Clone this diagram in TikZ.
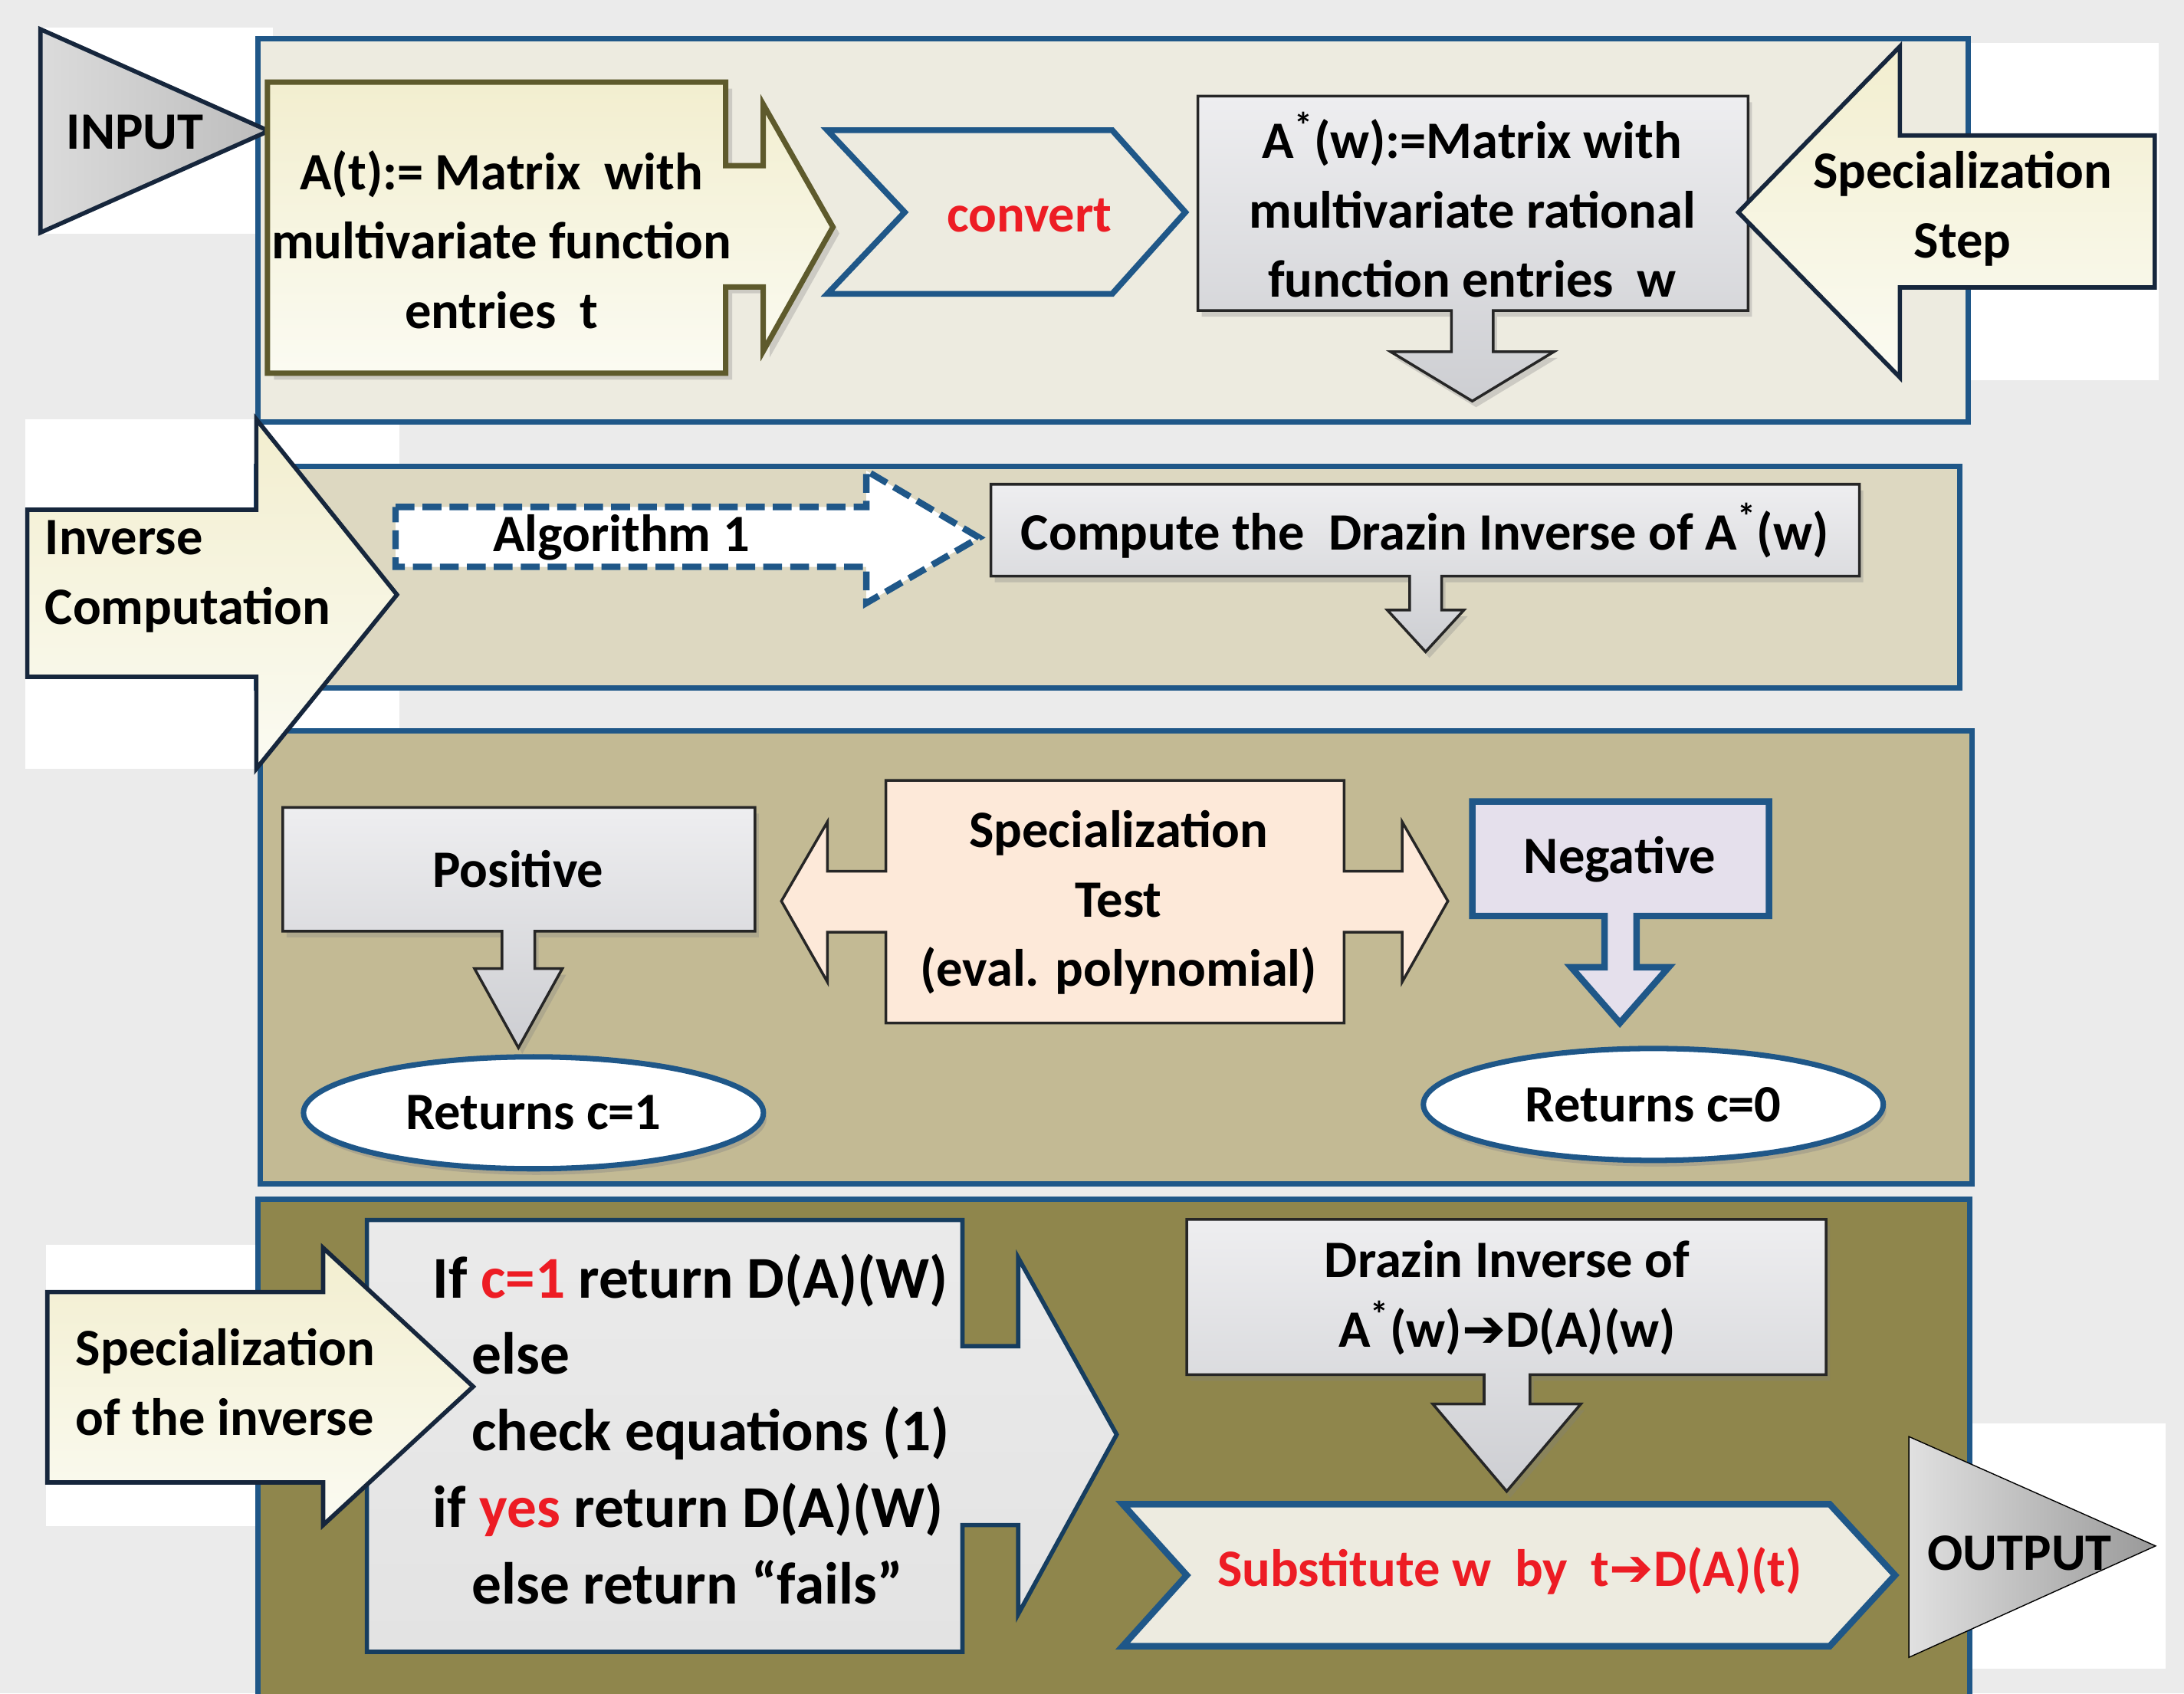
\documentclass[tikz,border=0pt]{standalone}
\usepackage{fontspec}
\setmainfont{Carlito}
\newfontfamily\arrowfont{DejaVu Sans}
\usetikzlibrary{shapes.geometric,shadows}

\definecolor{pageback}{HTML}{EBEBEB}
\definecolor{panelblue}{HTML}{1F5788}
\definecolor{bandone}{HTML}{EDEBE0}
\definecolor{bandtwo}{HTML}{DDD8C1}
\definecolor{bandthree}{HTML}{C3BA94}
\definecolor{bandfour}{HTML}{8F864C}
\definecolor{creamtop}{HTML}{F2EECF}
\definecolor{creambot}{HTML}{FBFBF2}
\definecolor{greytop}{HTML}{EEEEF0}
\definecolor{greybot}{HTML}{CDCED2}
\definecolor{peach}{HTML}{FDE9D9}
\definecolor{lavender}{HTML}{E5E0EC}
\definecolor{redtext}{HTML}{ED1C24}
\definecolor{olivedark}{HTML}{5E5A2C}
\definecolor{navy}{HTML}{16263C}

\newcommand{\Astar}{A\textsuperscript{*}}
\newcommand{\thickto}{{\arrowfont\bfseries ➔}}

\tikzset{
  lbl/.style={font=\bfseries\fontsize{19.5}{25.8}\selectfont, align=center, inner sep=0pt},
  listtext/.style={font=\bfseries\fontsize{22}{28.4}\selectfont, align=left, inner sep=0pt},
  band/.style={draw=panelblue, line width=2pt},
  tri/.style={draw=navy, line width=1.6pt, left color=black!14, right color=black!26},
  creamarrow/.style={draw=navy, line width=1.6pt, top color=creamtop, bottom color=creambot},
  greybox/.style={draw=black!85, line width=1pt, top color=greytop, bottom color=greybot,
    drop shadow={opacity=0.3, shadow xshift=0.5mm, shadow yshift=-0.8mm}},
  chevron/.style={draw=panelblue, line width=2.2pt, fill=bandone},
  retell/.style={lbl, ellipse, draw=panelblue, line width=2pt, fill=white,
    minimum width=60mm, minimum height=14.6mm,
    drop shadow={opacity=0.35, shadow xshift=0.4mm, shadow yshift=-0.8mm}},
}

\begin{document}
\begin{tikzpicture}[x=0.1817mm, y=-0.1817mm]
  \useasboundingbox (0,0) rectangle (1568,1216);
  \fill[pageback] (0,0) rectangle (1568,1216);
  \fill[white] (29,20) rectangle (196,168);
  \fill[white] (1413,31) rectangle (1550,273);
  \fill[white] (18,301) rectangle (287,552);
  \fill[white] (33,894) rectangle (185,1096);
  \fill[white] (1416,1022) rectangle (1555,1198);

  \draw[band, fill=bandone] (185,28) rectangle (1413,303);
  \draw[band, fill=bandtwo] (184,335) rectangle (1407,494);
  \draw[band, fill=bandthree] (187,525) rectangle (1416,850);
  \draw[band, fill=bandfour] (185,861) rectangle (1414,1230);

  % first band
  \draw[tri] (29,21) -- (193,94) -- (29,167) -- cycle;
  \node (input) at (97,95) [lbl] {INPUT};
  \draw[creamarrow, draw=olivedark, line width=2pt, drop shadow={opacity=0.3}] (192,59) -- (521,59) -- (521,119) -- (548,119) -- (548,75) -- (598,163) -- (548,252) -- (548,206) -- (521,206) -- (521,268) -- (192,268) -- cycle;
  \node (matrixA) at (360,172) [lbl] {A(t):= Matrix~~with\\multivariate function\\entries~~t};
  \draw[chevron] (594,93.5) -- (798.5,93.5) -- (851,152.4) -- (798.5,211) -- (594,211) -- (649.5,152.4) -- cycle;
  \node (convert) at (739,155) [lbl, text=redtext] {convert};
  \draw[greybox] (860,69) -- (1255,69) -- (1255,223) -- (1072,223) -- (1072,252.6) -- (1115.5,252.6) -- (1057,288) -- (998.5,252.6) -- (1042,252.6) -- (1042,223) -- (860,223) -- cycle;
  \node (matrixW) at (1057,147) [lbl] {\Astar(w):=Matrix with\\multivariate rational\\function entries~~w};
  \draw[creamarrow] (1547,97.3) -- (1364,97.3) -- (1364,33.4) -- (1248,152.4) -- (1364,271) -- (1364,206.4) -- (1547,206.4) -- cycle;
  \node (specstep) at (1409,150) [lbl] {Specialization\\Step};

  % second band
  \draw[creamarrow] (19.6,366) -- (184,366) -- (184,301) -- (285,427) -- (184,552) -- (184,486) -- (19.6,486) -- cycle;
  \node (invcomp) at (32,414) [lbl, anchor=west, align=left] {Inverse\\Computation};
  \draw[draw=panelblue, fill=white, line width=2.4pt, dash pattern=on 7pt off 3pt] (284,364) -- (622,364) -- (622,338) -- (703,386) -- (622,433) -- (622,407) -- (284,407) -- cycle;
  \node (algo) at (446,386) [lbl] {Algorithm 1};
  \draw[greybox] (711.4,347.7) -- (1335,347.7) -- (1335,413.7) -- (1035,413.7) -- (1035,438) -- (1051,438) -- (1023.5,468) -- (996,438) -- (1012,438) -- (1012,413.7) -- (711.4,413.7) -- cycle;
  \node (compute) at (1023,381) [lbl] {Compute the~~Drazin Inverse of \Astar(w)};

  % third band
  \draw[greybox] (203,579.7) -- (542,579.7) -- (542,668.6) -- (384,668.6) -- (384,695.5) -- (403.7,695.5) -- (372.2,752.3) -- (340.7,695.5) -- (360.4,695.5) -- (360.4,668.6) -- (203,668.6) -- cycle;
  \node (positive) at (372,624) [lbl] {Positive};
  \node (retone) at (383,799) [retell] {Returns c=1};
  \draw[draw=black!85, line width=1pt, fill=peach] (636,560.4) -- (965,560.4) -- (965,625.6) -- (1006.7,625.6) -- (1006.7,590.2) -- (1039.5,647) -- (1006.7,705) -- (1006.7,669.3) -- (965,669.3) -- (965,734.5) -- (636,734.5) -- (636,669.3) -- (594,669.3) -- (594,705) -- (561,647) -- (594,590.2) -- (594,625.6) -- (636,625.6) -- cycle;
  \node (spectest) at (803,648) [lbl] {Specialization\\Test\\(eval. polynomial)};
  \draw[draw=panelblue, line width=2.4pt, fill=lavender] (1057,575.5) -- (1270,575.5) -- (1270,657.7) -- (1175,657.7) -- (1175,694.5) -- (1198,694.5) -- (1163,734.5) -- (1128,694.5) -- (1152,694.5) -- (1152,657.7) -- (1057,657.7) -- cycle;
  \node (negative) at (1163,617) [lbl] {Negative};
  \node (retzero) at (1187,793) [retell] {Returns c=0};

  % fourth band
  \draw[draw=panelblue!70!black, line width=1.6pt, top color=black!8, bottom color=black!11] (263.4,876) -- (691,876) -- (691,966.6) -- (731,966.6) -- (731,903) -- (801.7,1030) -- (731,1159) -- (731,1095) -- (691,1095) -- (691,1186) -- (263.4,1186) -- cycle;
  \draw[creamarrow] (34,927.7) -- (232,927.7) -- (232,896) -- (339.7,995.6) -- (232,1095) -- (232,1064.4) -- (34,1064.4) -- cycle;
  \node (specinv) at (54,992.5) [lbl, anchor=west, align=left] {Specialization\\of the inverse};
  \node (rules) at (310.5,1026) [listtext, anchor=west] {If {\color{redtext}c=1} return D(A)(W)\\
    \hspace*{14.4pt}else\\
    \hspace*{14.4pt}check equations (1)\\
    if {\color{redtext}yes} return D(A)(W)\\
    \hspace*{14.4pt}else return “fails”};
  \draw[greybox] (852,875.5) -- (1311,875.5) -- (1311,987) -- (1098.5,987) -- (1098.5,1008) -- (1135,1008) -- (1081.7,1070.8) -- (1028.6,1008) -- (1065.5,1008) -- (1065.5,987) -- (852,987) -- cycle;
  \node (drazin) at (1082,932) [lbl] {Drazin Inverse of\\\Astar(w)\thickto D(A)(w)};
  \draw[chevron, line width=2.4pt] (806,1080) -- (1313.6,1080) -- (1360.5,1131) -- (1313.6,1182) -- (806,1182) -- (852,1131) -- cycle;
  \node (subst) at (1084,1128) [lbl, text=redtext] {Substitute w~~by~~t\thickto D(A)(t)};
  \draw[left color=black!12, right color=black!40] (1370.5,1031.5) -- (1547.6,1110) -- (1370.5,1190) -- cycle;
  \node (output) at (1450,1115) [lbl] {OUTPUT};
\end{tikzpicture}
\end{document}
